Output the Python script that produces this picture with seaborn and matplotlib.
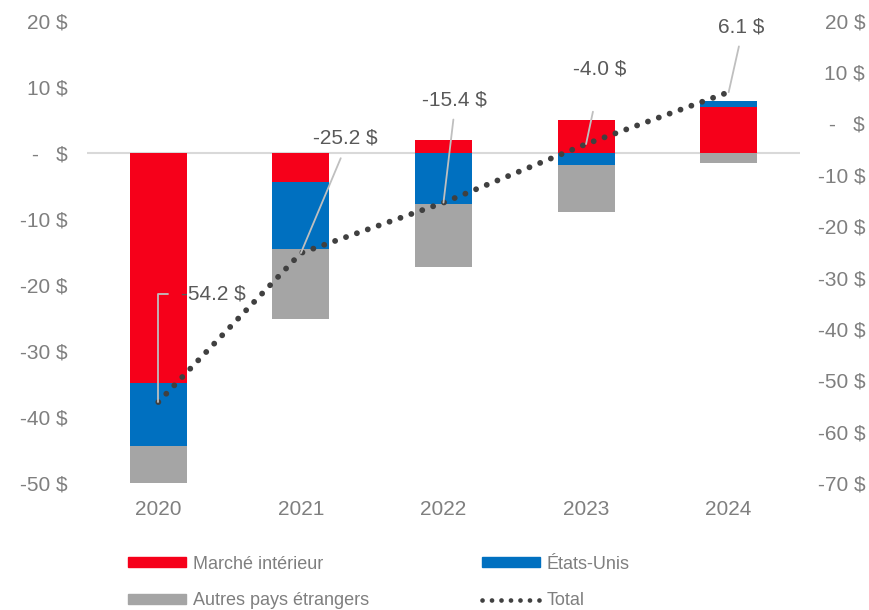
import numpy as np
import matplotlib
matplotlib.use('Agg')
import matplotlib.pyplot as plt
import seaborn as sns
from matplotlib.lines import Line2D
from matplotlib.patches import Patch

# ==============================================
# Data
# ==============================================
years = ['2020', '2021', '2022', '2023', '2024']
marche_interieur = [-34.8, -4.4, 2.0, 5.0, 7.0]
etats_unis = [-9.6, -10.1, -7.8, -1.9, 0.8]
autres_pays = [-9.8, -10.6, -9.4, -7.0, -1.5]
total = [-54.2, -25.2, -15.4, -4.0, 6.1]

left_ticks = [20, 10, 0, -10, -20, -30, -40, -50]
right_ticks = [20, 10, 0, -10, -20, -30, -40, -50, -60, -70]

series_names = ['Marché intérieur', 'États-Unis', 'Autres pays étrangers']
series_values = [marche_interieur, etats_unis, autres_pays]
colors = ['#F6001A', '#0070C0', '#A5A5A5']

# label offsets (points) and leader gap for each total label
label_offsets = [(40, 78), (32, 83), (8, 74), (10, 54), (9, 47)]
label_gaps = [7, 6, 5, 22, 5]

TXT = '#7F7F7F'
LBL = '#595959'

sns.set_style('white')
plt.rcParams['font.family'] = ['Liberation Sans', 'DejaVu Sans']


def fmt(v):
    if v == 0:
        return '-   $'
    return f'{v:g} $'


# ==============================================
# Figure
# ==============================================
fig = plt.figure(figsize=(8.7, 6.1), dpi=100)
ax = fig.add_axes([0.1, 0.2077, 0.8195, 0.7584])

# stacked bars (positive and negative parts stacked separately)
pos_acc = np.zeros(len(years))
neg_acc = np.zeros(len(years))
for name, vals, col in zip(series_names, series_values, colors):
    vals = np.array(vals)
    bottom = np.where(vals >= 0, pos_acc, neg_acc)
    sns.barplot(x=years, y=vals, bottom=bottom, color=col, width=0.4,
                errorbar=None, ax=ax, saturation=1, linewidth=0)
    pos_acc = pos_acc + np.where(vals >= 0, vals, 0)
    neg_acc = neg_acc + np.where(vals < 0, vals, 0)

ax.axhline(0, color='#D9D9D9', lw=1.5, zorder=0.5)
ax.set_ylim(-50, 20)
ax.set_xlim(-0.5, len(years) - 0.5)
ax.set_yticks(left_ticks)
ax.set_yticklabels([fmt(t) for t in left_ticks])
ax.tick_params(axis='y', length=0, pad=14, labelsize=15, labelcolor=TXT)
ax.tick_params(axis='x', length=0, pad=12, labelsize=15, labelcolor=TXT)
ax.set_xlabel('')
ax.set_ylabel('')
sns.despine(ax=ax, left=True, bottom=True)

# total line on secondary axis
ax2 = ax.twinx()
x_pos = np.arange(len(years))
sns.lineplot(x=x_pos, y=total, ax=ax2, color='#404040', lw=4.2)
line = ax2.lines[0]
line.set_linestyle((0, (0.01, 1.97)))
line.set_dash_capstyle('round')
ax2.set_ylim(-70, 20)
ax2.set_yticks(right_ticks)
ax2.set_yticklabels([fmt(t) for t in right_ticks])
ax2.tick_params(axis='y', length=0, pad=47, labelsize=15, labelcolor=TXT)
for lab in ax2.get_yticklabels():
    lab.set_horizontalalignment('right')
ax2.set_ylabel('')
sns.despine(ax=ax2, left=True, bottom=True, right=True)

# data labels with leader lines
for i, (v, off, gap) in enumerate(zip(total, label_offsets, label_gaps)):
    if i == 0:
        arrow = dict(arrowstyle='-', color='#BFBFBF', lw=1.3,
                     connectionstyle='angle,angleA=0,angleB=90,rad=0',
                     relpos=(0, 0.5), shrinkA=gap, shrinkB=0)
    else:
        arrow = dict(arrowstyle='-', color='#BFBFBF', lw=1.3,
                     relpos=(0.5, 0), shrinkA=gap, shrinkB=0)
    ax2.annotate(f'{v:.1f} $', xy=(i, v), xytext=off, textcoords='offset points',
                 ha='center', va='center', fontsize=15, color=LBL,
                 arrowprops=arrow)

# legend
handles = [
    Patch(color=colors[0], label=series_names[0]),
    Patch(color=colors[2], label=series_names[2]),
    Patch(color=colors[1], label=series_names[1]),
    Line2D([0], [0], color='#404040', lw=3.4, linestyle=(0, (0.01, 2.0)),
           dash_capstyle='round', label='Total'),
]
leg = fig.legend(handles=handles, loc='center left', bbox_to_anchor=(128 / 870, 0.045),
                 ncol=2, frameon=False, fontsize=13, handlelength=3.2, handleheight=0.5,
                 handletextpad=0.4, columnspacing=6.25, labelspacing=1.1,
                 borderpad=0, borderaxespad=0)
for t in leg.get_texts():
    t.set_color(TXT)

plt.savefig('out.png', dpi=100)
